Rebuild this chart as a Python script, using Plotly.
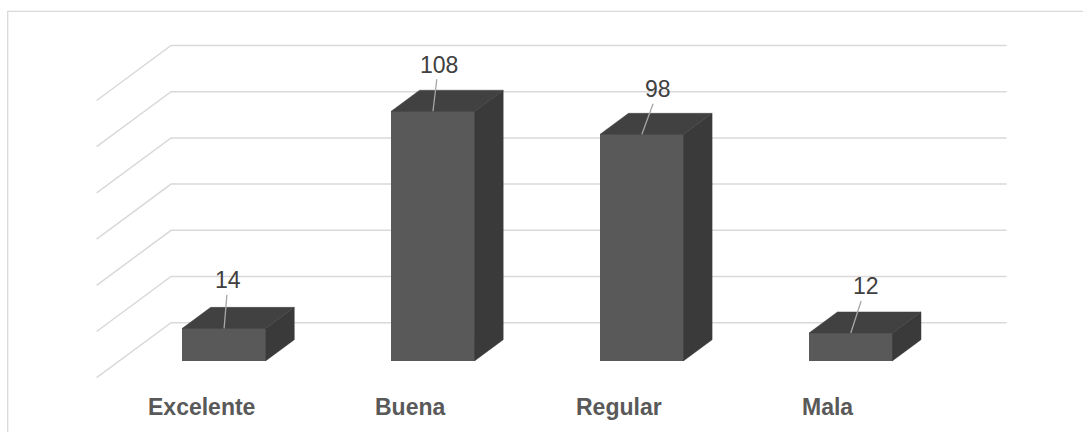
import plotly.graph_objects as go

# ---- data ----
categories = ["Excelente", "Buena", "Regular", "Mala"]
values = [14, 108, 98, 12]
grid_values = [0, 20, 40, 60, 80, 100, 120]

# ---- pseudo-3D geometry (styling) ----
W, H = 1083, 432
SX = 208.9          # px per category
SY = 2.31           # px per value unit
X0_PX = 224.1       # px of category 0
Y0_PX = 360.7       # px of value 0
OX = 28.4 / SX      # depth offset per z-unit (category units)
OY = 21.0 / SY      # depth offset per z-unit (value units)
Z_FRONT, Z_BACK = -0.81, 1.81
WALL_L, WALL_R = -0.5, 3.5
BAR_W = 0.4

FRONT_C = "#595959"
TOP_C = "#414141"
SIDE_C = "#3a3a3a"
GRID_C = "#d9d9d9"

# label offsets (px) of the data labels relative to the bar's front top
label_dx = [4, 5.5, 16.5, 15]
label_dy = [-48, -46.5, -45, -46.5]

fig = go.Figure()
shapes = []

# gridlines: floor-side diagonal + back wall horizontal (drawn below traces)
for v in grid_values:
    pts = [(WALL_L + Z_FRONT * OX, v + Z_FRONT * OY),
           (WALL_L + Z_BACK * OX, v + Z_BACK * OY),
           (WALL_R + Z_BACK * OX, v + Z_BACK * OY)]
    path = "M {} {} L {} {} L {} {}".format(*[c for p in pts for c in p])
    shapes.append(dict(type="path", xref="x", yref="y", path=path,
                       line=dict(color=GRID_C, width=1.5), layer="below"))

xs_idx = list(range(len(categories)))

# front faces
fig.add_trace(go.Bar(x=xs_idx, y=values, width=BAR_W, base=0,
                     marker=dict(color=FRONT_C, line=dict(width=0)),
                     hoverinfo="skip", showlegend=False))

# top and side faces
for i, v in zip(xs_idx, values):
    l, r = i - BAR_W / 2, i + BAR_W / 2
    side_x = [r, r + OX, r + OX, r, r]
    side_y = [0, OY, v + OY, v, 0]
    fig.add_trace(go.Scatter(x=side_x, y=side_y, mode="lines", fill="toself",
                             fillcolor=SIDE_C, line=dict(color=SIDE_C, width=0.5),
                             hoverinfo="skip", showlegend=False))
    top_x = [l, l + OX, r + OX, r, l]
    top_y = [v, v + OY, v + OY, v, v]
    fig.add_trace(go.Scatter(x=top_x, y=top_y, mode="lines", fill="toself",
                             fillcolor=TOP_C, line=dict(color=TOP_C, width=0.5),
                             hoverinfo="skip", showlegend=False))

annotations = []
# data labels with leader lines
for i, v in enumerate(values):
    annotations.append(dict(
        x=i, y=v, xref="x", yref="y", text=str(v),
        showarrow=True, arrowhead=0, arrowwidth=1.3, arrowcolor="#a6a6a6",
        ax=label_dx[i], ay=label_dy[i], standoff=0,
        font=dict(family="Liberation Sans, Arial", size=23, color="#404040"),
    ))
# category labels at floor front
for i, c in enumerate(categories):
    annotations.append(dict(
        x=i + Z_FRONT * OX, y=Z_FRONT * OY, xref="x", yref="y",
        text="<b>" + c + "</b>", showarrow=False, yshift=-29,
        font=dict(family="Liberation Sans, Arial", size=23, color="#595959"),
    ))

# chart border
shapes.append(dict(type="rect", xref="paper", yref="paper",
                   x0=7.7 / W, x1=1.02, y0=-0.02, y1=1 - 11.3 / H,
                   line=dict(color="#d9d9d9", width=1.3),
                   fillcolor="rgba(0,0,0,0)", layer="below"))

x_range = [-X0_PX / SX, (W - X0_PX) / SX]
y_range = [-(H - Y0_PX) / SY, Y0_PX / SY]

fig.update_layout(
    width=W, height=H,
    margin=dict(l=0, r=0, t=0, b=0),
    paper_bgcolor="white", plot_bgcolor="white",
    xaxis=dict(range=x_range, visible=False, fixedrange=True),
    yaxis=dict(range=y_range, visible=False, fixedrange=True),
    annotations=annotations,
    shapes=shapes,
    bargap=0,
)

fig.write_html("out.html",
               config={"displayModeBar": False},
               post_script="document.body.style.margin='0';document.body.style.overflow='hidden';")
